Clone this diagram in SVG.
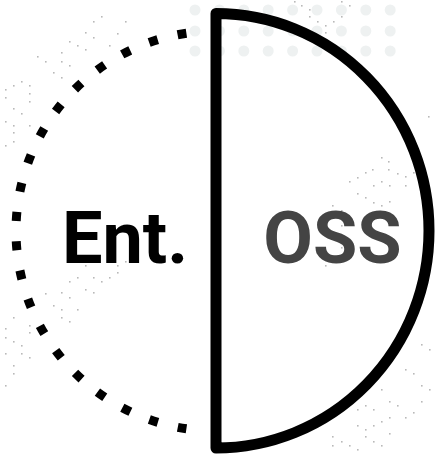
<svg xmlns="http://www.w3.org/2000/svg" width="436" height="454" viewBox="0 0 436 454">
<defs>
<style>
.grid circle{fill:#eef1f1}
.spk rect{fill:#b9b9b9}
.lbl{font-family:Roboto,"Liberation Sans",sans-serif;font-weight:700;font-size:72px;text-anchor:middle}
.dotted{fill:none;stroke:#000;stroke-width:9;stroke-dasharray:9 20.47}
.solid{fill:none;stroke:#000;stroke-width:11;stroke-linejoin:round}
</style>
</defs>
<rect width="436" height="454" fill="#fff"/>
<g class="grid">
<circle cx="195" cy="10" r="5.5"/><circle cx="219.4" cy="10" r="5.5"/><circle cx="243.8" cy="10" r="5.5"/><circle cx="268.2" cy="10" r="5.5"/><circle cx="292.6" cy="10" r="5.5"/><circle cx="317" cy="10" r="5.5"/><circle cx="341.4" cy="10" r="5.5"/><circle cx="365.8" cy="10" r="5.5"/><circle cx="390.2" cy="10" r="5.5"/>
<circle cx="195" cy="31" r="5.5"/><circle cx="219.4" cy="31" r="5.5"/><circle cx="243.8" cy="31" r="5.5"/><circle cx="268.2" cy="31" r="5.5"/><circle cx="292.6" cy="31" r="5.5"/><circle cx="317" cy="31" r="5.5"/><circle cx="341.4" cy="31" r="5.5"/><circle cx="365.8" cy="31" r="5.5"/><circle cx="390.2" cy="31" r="5.5"/>
<circle cx="195" cy="51" r="5.5"/><circle cx="219.4" cy="51" r="5.5"/><circle cx="243.8" cy="51" r="5.5"/><circle cx="268.2" cy="51" r="5.5"/><circle cx="292.6" cy="51" r="5.5"/><circle cx="317" cy="51" r="5.5"/><circle cx="341.4" cy="51" r="5.5"/><circle cx="365.8" cy="51" r="5.5"/><circle cx="390.2" cy="51" r="5.5"/>
</g>
<g class="spk">
<rect x="101" y="16" width="1.6" height="1.6"/><rect x="93" y="21" width="1.6" height="1.6"/><rect x="125" y="21" width="1.6" height="1.6"/><rect x="85" y="32" width="1.6" height="1.6"/><rect x="117" y="33" width="1.6" height="1.6"/><rect x="93" y="37" width="1.6" height="1.6"/><rect x="69" y="41" width="1.6" height="1.6"/><rect x="77" y="45" width="1.6" height="1.6"/><rect x="85" y="49" width="1.6" height="1.6"/><rect x="109" y="45" width="1.6" height="1.6"/><rect x="61" y="52" width="1.6" height="1.6"/><rect x="37" y="56" width="1.6" height="1.6"/><rect x="45" y="61" width="1.6" height="1.6"/><rect x="61" y="61" width="1.6" height="1.6"/><rect x="69" y="65" width="1.6" height="1.6"/><rect x="53" y="72" width="1.6" height="1.6"/><rect x="61" y="77" width="1.6" height="1.6"/>
<rect x="5" y="89" width="1.6" height="1.6"/><rect x="13" y="85" width="1.6" height="1.6"/><rect x="21" y="81" width="1.6" height="1.6"/><rect x="29" y="85" width="1.6" height="1.6"/><rect x="5" y="97" width="1.6" height="1.6"/><rect x="29" y="93" width="1.6" height="1.6"/><rect x="29" y="101" width="1.6" height="1.6"/><rect x="13" y="108" width="1.6" height="1.6"/><rect x="21" y="113" width="1.6" height="1.6"/><rect x="5" y="121" width="1.6" height="1.6"/><rect x="13" y="125" width="1.6" height="1.6"/><rect x="29" y="125" width="1.6" height="1.6"/><rect x="13" y="132" width="1.6" height="1.6"/><rect x="13" y="141" width="1.6" height="1.6"/><rect x="5" y="145" width="1.6" height="1.6"/>
<rect x="85" y="265" width="1.6" height="1.6"/><rect x="117" y="265" width="1.6" height="1.6"/><rect x="125" y="261" width="1.6" height="1.6"/><rect x="77" y="277" width="1.6" height="1.6"/><rect x="93" y="277" width="1.6" height="1.6"/><rect x="101" y="281" width="1.6" height="1.6"/><rect x="109" y="277" width="1.6" height="1.6"/><rect x="117" y="272" width="1.6" height="1.6"/><rect x="69" y="281" width="1.6" height="1.6"/><rect x="85" y="289" width="1.6" height="1.6"/><rect x="93" y="292" width="1.6" height="1.6"/><rect x="61" y="292" width="1.6" height="1.6"/><rect x="45" y="293" width="1.6" height="1.6"/><rect x="53" y="305" width="1.6" height="1.6"/><rect x="69" y="297" width="1.6" height="1.6"/><rect x="61" y="309" width="1.6" height="1.6"/><rect x="77" y="309" width="1.6" height="1.6"/><rect x="61" y="317" width="1.6" height="1.6"/><rect x="69" y="321" width="1.6" height="1.6"/>
<rect x="13" y="317" width="1.6" height="1.6"/><rect x="5" y="328" width="1.6" height="1.6"/><rect x="5" y="337" width="1.6" height="1.6"/><rect x="13" y="341" width="1.6" height="1.6"/><rect x="21" y="345" width="1.6" height="1.6"/><rect x="29" y="325" width="1.6" height="1.6"/><rect x="29" y="332" width="1.6" height="1.6"/><rect x="5" y="353" width="1.6" height="1.6"/><rect x="21" y="353" width="1.6" height="1.6"/><rect x="29" y="357" width="1.6" height="1.6"/><rect x="13" y="365" width="1.6" height="1.6"/><rect x="13" y="373" width="1.6" height="1.6"/><rect x="5" y="385" width="1.6" height="1.6"/>
<rect x="294" y="1" width="1.6" height="1.6"/><rect x="301" y="5" width="1.6" height="1.6"/><rect x="309" y="9" width="1.6" height="1.6"/><rect x="309" y="16" width="1.6" height="1.6"/><rect x="317" y="21" width="1.6" height="1.6"/><rect x="325" y="25" width="1.6" height="1.6"/><rect x="325" y="32" width="1.6" height="1.6"/><rect x="333" y="21" width="1.6" height="1.6"/><rect x="341" y="16" width="1.6" height="1.6"/><rect x="341" y="1" width="1.6" height="1.6"/><rect x="349" y="5" width="1.6" height="1.6"/><rect x="428" y="116" width="1.6" height="1.6"/>
<rect x="381" y="157" width="1.6" height="1.6"/><rect x="388" y="161" width="1.6" height="1.6"/><rect x="372" y="169" width="1.6" height="1.6"/><rect x="388" y="169" width="1.6" height="1.6"/><rect x="397" y="173" width="1.6" height="1.6"/><rect x="365" y="172" width="1.6" height="1.6"/><rect x="357" y="177" width="1.6" height="1.6"/><rect x="349" y="181" width="1.6" height="1.6"/><rect x="381" y="181" width="1.6" height="1.6"/><rect x="405" y="176" width="1.6" height="1.6"/><rect x="405" y="185" width="1.6" height="1.6"/><rect x="413" y="172" width="1.6" height="1.6"/><rect x="389" y="185" width="1.6" height="1.6"/><rect x="373" y="185" width="1.6" height="1.6"/><rect x="357" y="193" width="1.6" height="1.6"/><rect x="365" y="197" width="1.6" height="1.6"/><rect x="373" y="202" width="1.6" height="1.6"/><rect x="389" y="201" width="1.6" height="1.6"/><rect x="381" y="205" width="1.6" height="1.6"/><rect x="332" y="205" width="1.6" height="1.6"/><rect x="341" y="210" width="1.6" height="1.6"/><rect x="341" y="225" width="1.6" height="1.6"/><rect x="332" y="237" width="1.6" height="1.6"/><rect x="341" y="247" width="1.6" height="1.6"/><rect x="316" y="252" width="1.6" height="1.6"/><rect x="325" y="265" width="1.6" height="1.6"/>
<rect x="421" y="344" width="1.6" height="1.6"/><rect x="429" y="349" width="1.6" height="1.6"/><rect x="405" y="369" width="1.6" height="1.6"/><rect x="413" y="373" width="1.6" height="1.6"/><rect x="421" y="385" width="1.6" height="1.6"/><rect x="429" y="389" width="1.6" height="1.6"/><rect x="381" y="389" width="1.6" height="1.6"/><rect x="389" y="401" width="1.6" height="1.6"/><rect x="397" y="405" width="1.6" height="1.6"/><rect x="421" y="401" width="1.6" height="1.6"/><rect x="365" y="405" width="1.6" height="1.6"/><rect x="373" y="409" width="1.6" height="1.6"/><rect x="357" y="409" width="1.6" height="1.6"/><rect x="413" y="412" width="1.6" height="1.6"/><rect x="405" y="417" width="1.6" height="1.6"/><rect x="389" y="417" width="1.6" height="1.6"/><rect x="381" y="421" width="1.6" height="1.6"/><rect x="373" y="425" width="1.6" height="1.6"/><rect x="357" y="425" width="1.6" height="1.6"/><rect x="365" y="429" width="1.6" height="1.6"/><rect x="389" y="433" width="1.6" height="1.6"/><rect x="365" y="436" width="1.6" height="1.6"/><rect x="373" y="441" width="1.6" height="1.6"/><rect x="332" y="436" width="1.6" height="1.6"/><rect x="341" y="441" width="1.6" height="1.6"/><rect x="332" y="445" width="1.6" height="1.6"/><rect x="349" y="445" width="1.6" height="1.6"/><rect x="357" y="449" width="1.6" height="1.6"/><rect x="381" y="445" width="1.6" height="1.6"/>
</g>
<g id="enterprise">
<path class="dotted" d="M186.4,33.2 A200,200 0 0 0 186.4,428.8"/>
<text class="lbl" x="125" y="263" fill="#000">Ent.</text>
</g>
<g id="oss">
<path class="solid" d="M216,13.5 L216,448 A213,217.25 0 0 0 216,13.5 Z"/>
<text class="lbl" x="332.5" y="263" fill="#444">OSS</text>
</g>
</svg>
